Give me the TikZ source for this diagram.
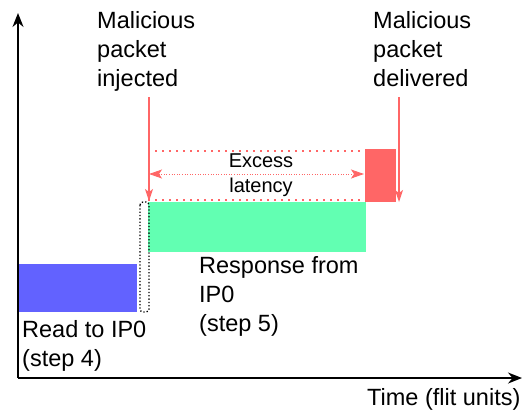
\documentclass[tikz,border=0pt]{standalone}
\usepackage{fontspec}
\setmainfont{Liberation Sans}
\usetikzlibrary{arrows.meta}
\definecolor{readblue}{RGB}{98,98,255}
\definecolor{respgreen}{RGB}{98,255,178}
\definecolor{malred}{RGB}{255,102,102}
\tikzset{
  axis/.style={line width=1.7pt, -{Stealth[length=14pt,width=11pt]}},
  lbl/.style={inner sep=0pt, anchor=north west, align=left,
    font=\fontsize{23.5}{29}\selectfont},
  smalllbl/.style={inner sep=0pt, align=center,
    font=\fontsize{20}{25}\selectfont},
  pkt/.style={malred, line width=1.4pt, -{Stealth[length=12pt,width=8pt,inset=3pt]}},
  excess/.style={malred, line width=2.8pt, dash pattern=on 2.4pt off 4.6pt},
  span/.style={malred, line width=0.9pt, dash pattern=on 1pt off 1.6pt,
    {Stealth[length=13pt,width=9pt,inset=3pt]}-{Stealth[length=13pt,width=9pt,inset=3pt]}},
}
\begin{document}
\begin{tikzpicture}[x=1pt,y=-1pt]
\useasboundingbox (0,0) rectangle (529,413);

% axes
\coordinate (origin) at (18,378);
\coordinate (ytop) at (18,13);
\coordinate (xend) at (522,378);
\draw[axis] (origin) -- (ytop);
\draw[axis] (origin) -- (xend);

% activity bars
\fill[readblue] (19,264) rectangle (137,312);
\fill[respgreen] (148,202) rectangle (366,252);
\fill[malred] (365,149) rectangle (396,202);

% gap between read and response
\draw[dotted, line width=1.3pt, rounded corners=3pt] (140,202) rectangle (149,312);

% excess latency window
\draw[excess] (148,151) -- (365,151);
\draw[excess] (148,200) -- (365,200);
\coordinate (spanL) at (149,174);
\coordinate (spanR) at (364,174);
\draw[span] (spanL) -- (spanR);
\node[smalllbl] (exc) at (261,175) {Excess\\latency};

% packet events
\node[lbl] (inj) at (97,11) {Malicious\\packet\\injected};
\node[lbl] (del) at (373,11) {Malicious\\packet\\delivered};
\coordinate (injTop) at (149,97);
\coordinate (injBot) at (149,201);
\coordinate (delTop) at (399,97);
\coordinate (delBot) at (399,202);
\draw[pkt] (injTop) -- (injBot);
\draw[pkt] (delTop) -- (delBot);

% bar labels
\node[lbl] (read) at (22,320) {Read to IP0\\(step 4)};
\node[lbl] (resp) at (199,256) {Response from\\IP0\\(step 5)};
\node[lbl] (time) at (367,388) {Time (flit units)};
\end{tikzpicture}
\end{document}
